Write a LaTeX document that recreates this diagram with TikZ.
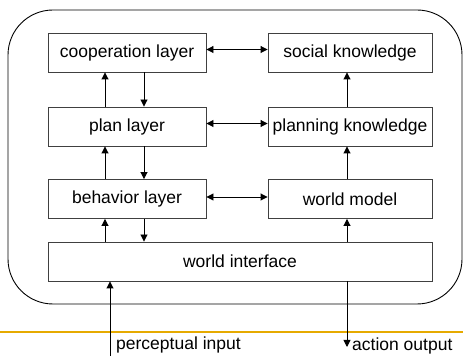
\documentclass[tikz,border=0pt]{standalone}
\usepackage{fontspec}
\setmainfont{Liberation Sans}
\usetikzlibrary{positioning,arrows.meta,calc}
\definecolor{rulegold}{RGB}{230,170,0}

\begin{document}
\begin{tikzpicture}[x=1pt,y=1pt,
    blk/.style={draw=black!75,line width=0.9pt,minimum height=39pt,inner sep=0pt,font=\fontsize{17.5}{20}\selectfont},
    lblk/.style={blk,minimum width=158pt},
    rblk/.style={blk,minimum width=164pt},
    arr/.style={-{Triangle[length=7pt,width=7pt]},line width=0.9pt},
    darr/.style={{Triangle[length=7pt,width=7pt]}-{Triangle[length=7pt,width=7pt]},line width=0.9pt},
    txt/.style={font=\fontsize{17.5}{20}\selectfont,inner sep=0pt}]
      \useasboundingbox (0,0) rectangle (463,356);
      \draw[line width=0.9pt,rounded corners=45pt] (8,52) rectangle (462,346);
      \draw[rulegold,line width=1.2pt] (0,24) -- (463,24);

      \node[lblk] (coop) at (127,303.5) {cooperation layer};
      \node[lblk] (plan) at (127,229.5) {plan layer};
      \node[lblk] (behav) at (127,157) {behavior layer};

      \node[rblk] (social) at (350,303.5) {social knowledge};
      \node[rblk] (plank) at (350,229.5) {planning knowledge};
      \node[rblk] (wmodel) at (350,157) {world model};

      \node[blk,minimum width=384pt] (wiface) at (240,94.5) {world interface};

      % layers
      \draw[arr] ([xshift=-22pt]plan.north) -- ([xshift=-22pt]coop.south);
      \draw[arr] ([xshift=17pt]coop.south) -- ([xshift=17pt]plan.north);
      \draw[arr] ([xshift=-22pt]behav.north) -- ([xshift=-22pt]plan.south);
      \draw[arr] ([xshift=17pt]plan.south) -- ([xshift=17pt]behav.north);
      \draw[arr] (wiface.north -| 105,0) -- ([xshift=-22pt]behav.south);
      \draw[arr] ([xshift=17pt]behav.south) -- (wiface.north -| 144,0);

      % knowledge
      \draw[darr] ([yshift=3pt]coop.east) -- ([yshift=3pt]social.west);
      \draw[darr] ([yshift=3pt]plan.east) -- ([yshift=3pt]plank.west);
      \draw[darr] ([yshift=2pt]behav.east) -- ([yshift=2pt]wmodel.west);
      \draw[arr] ([xshift=-3pt]plank.north) -- ([xshift=-3pt]social.south);
      \draw[arr] ([xshift=-3pt]wmodel.north) -- ([xshift=-3pt]plank.south);
      \draw[arr] (wiface.north -| wmodel.south) ++(-3pt,0) -- ([xshift=-3pt]wmodel.south);

      % input / output
      \coordinate (pin) at (110,0);
      \coordinate (aout) at (347,9);
      \draw[arr] (pin) -- (pin |- wiface.south);
      \draw[arr] (aout |- wiface.south) -- (aout);
      \node[txt,anchor=west] (pinlbl) at (116,11) {perceptual input};
      \node[txt,anchor=west] (aoutlbl) at (352,10) {action output};
\end{tikzpicture}
\end{document}
